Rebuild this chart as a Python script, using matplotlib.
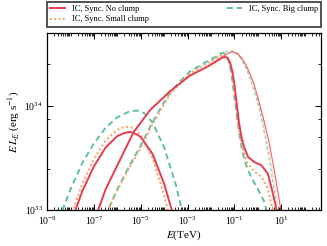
import numpy as np
import matplotlib
matplotlib.use('Agg')
import matplotlib.pyplot as plt
from matplotlib.ticker import FixedLocator, LogLocator, NullFormatter

plt.rcParams['font.family'] = 'serif'
plt.rcParams['font.serif'] = ['Liberation Serif', 'DejaVu Serif']
plt.rcParams['mathtext.fontset'] = 'stix'

# values, as log10(E/TeV) and log10(E L_E / erg s^-1)
# synchrotron bumps
sync_no_x = [-7.9, -7.5, -7.0, -6.5, -6.0, -5.7, -5.45, -5.2, -5.0, -4.5, -4.0, -3.6]
sync_no_y = [32.93, 33.18, 33.42, 33.60, 33.71, 33.74, 33.75, 33.73, 33.70, 33.54, 33.25, 32.94]
sync_small_x = [-8.0, -7.5, -7.0, -6.5, -6.0, -5.75, -5.53, -5.3, -5.0, -4.5, -4.0, -3.75]
sync_small_y = [32.93, 33.25, 33.49, 33.67, 33.77, 33.795, 33.80, 33.785, 33.72, 33.50, 33.14, 32.90]
sync_big_x = [-8.5, -8.0, -7.5, -7.0, -6.5, -6.0, -5.5, -5.17, -4.85, -4.5, -4.0, -3.5, -3.15]
sync_big_y = [32.91, 33.20, 33.45, 33.64, 33.79, 33.89, 33.945, 33.955, 33.93, 33.84, 33.60, 33.24, 32.91]

# inverse Compton (absorbed, thick)
ic_no_x = [-6.95, -6.82, -6.5, -6.0, -5.3, -4.6, -3.75, -2.9, -2.2, -1.75, -1.55, -1.4, -1.28, -1.18,
           -1.08, -1.0, -0.92, -0.8, -0.7, -0.6, -0.42, -0.15, 0.15, 0.42, 0.62, 0.78, 0.85]
ic_no_y = [32.9, 33.0, 33.2, 33.43, 33.75, 33.96, 34.14, 34.29, 34.37, 34.43, 34.46, 34.47, 34.455, 34.41,
           34.32, 34.2, 34.05, 33.83, 33.7, 33.61, 33.51, 33.46, 33.43, 33.35, 33.18, 33.02, 32.92]
ic_small_x = [-6.5, -6.4, -6.0, -5.5, -5.0, -4.6, -4.2, -3.75, -3.3, -2.9, -2.3, -1.8, -1.6, -1.47, -1.35,
              -1.23, -1.12, -1.03, -0.95, -0.83, -0.72, -0.62, -0.45, -0.15, 0.15, 0.4, 0.58, 0.7]
ic_small_y = [32.94, 33.0, 33.19, 33.4, 33.6, 33.78, 33.94, 34.11, 34.22, 34.31, 34.39, 34.45, 34.48,
              34.49, 34.475, 34.42, 34.32, 34.19, 34.04, 33.82, 33.67, 33.57, 33.45, 33.37, 33.32,
              33.22, 33.05, 32.92]
ic_big_x = [-6.5, -6.4, -6.0, -5.5, -5.0, -4.6, -4.2, -3.75, -3.3, -2.9, -2.3, -1.8, -1.6, -1.47, -1.35,
            -1.24, -1.14, -1.05, -0.95, -0.8, -0.68, -0.55, -0.3, 0.0, 0.25, 0.4, 0.5]
ic_big_y = [32.93, 33.0, 33.2, 33.42, 33.62, 33.80, 33.96, 34.13, 34.24, 34.33, 34.41, 34.47, 34.50,
            34.51, 34.49, 34.43, 34.32, 34.17, 33.99, 33.74, 33.58, 33.46, 33.32, 33.2, 33.09, 32.98, 32.9]

# inverse Compton (unabsorbed, thin)
thin_no_x = [-2.0, -1.7, -1.4, -1.1, -0.85, -0.6, -0.4, -0.18, 0.0, 0.18, 0.46, 0.67, 0.84, 0.96, 1.0]
thin_no_y = [34.40, 34.44, 34.49, 34.52, 34.50, 34.43, 34.34, 34.22, 34.08, 33.93, 33.67, 33.42,
             33.19, 33.03, 32.95]
thin_small_x = [-2.0, -1.6, -1.2, -0.95, -0.7, -0.45, -0.2, 0.05, 0.3, 0.55, 0.75, 0.9, 0.95]
thin_small_y = [34.40, 34.46, 34.51, 34.51, 34.45, 34.36, 34.21, 34.02, 33.77, 33.48, 33.2, 32.98, 32.9]
thin_big_x = [-2.0, -1.6, -1.25, -1.0, -0.75, -0.5, -0.3, -0.1, 0.1, 0.35, 0.55, 0.7, 0.82, 0.87]
thin_big_y = [34.43, 34.49, 34.53, 34.52, 34.46, 34.36, 34.24, 34.1, 33.93, 33.66, 33.4, 33.18,
              32.98, 32.9]

labels = ['IC, Sync. No clump', 'IC, Sync. Small clump', 'IC, Sync. Big clump']
colors = ['#e43d4f', '#fca868', '#5fc0a0']
styles = ['-', (0, (1, 1.2)), (0, (3, 2))]
widths = [1.4, 1.5, 1.4]

curves = [
    (sync_no_x, sync_no_y, ic_no_x, ic_no_y, thin_no_x, thin_no_y),
    (sync_small_x, sync_small_y, ic_small_x, ic_small_y, thin_small_x, thin_small_y),
    (sync_big_x, sync_big_y, ic_big_x, ic_big_y, thin_big_x, thin_big_y),
]

fig = plt.figure(figsize=(3.27, 2.46), dpi=100)
ax = fig.add_axes([0.144, 0.146, 0.838, 0.72])

for i in [2, 1, 0]:
    sx, sy, ix, iy, tx, ty = curves[i]
    ax.plot(10 ** np.array(sx), 10 ** np.array(sy), color=colors[i], ls=styles[i], lw=widths[i])
    ax.plot(10 ** np.array(ix), 10 ** np.array(iy), color=colors[i], ls=styles[i], lw=widths[i])
    ax.plot(10 ** np.array(tx), 10 ** np.array(ty), color=colors[i], ls=styles[i], lw=0.8, alpha=0.8)

handles = [plt.Line2D([], [], color=colors[i], ls=styles[i], lw=1.4, label=labels[i]) for i in range(3)]

ax.set_xscale('log')
ax.set_yscale('log')
ax.set_xlim(1e-9, 5e2)
ax.set_ylim(1e33, 5e34)

ax.xaxis.set_major_locator(FixedLocator([1e-9, 1e-7, 1e-5, 1e-3, 1e-1, 1e1]))
ax.xaxis.set_minor_locator(LogLocator(base=10, subs=np.arange(1, 10), numticks=100))
ax.xaxis.set_minor_formatter(NullFormatter())
ax.yaxis.set_major_locator(FixedLocator([1e33, 1e34]))
ax.yaxis.set_minor_locator(FixedLocator([2.5e33, 5e33, 7.5e33, 2.5e34, 5e34]))
ax.yaxis.set_minor_formatter(NullFormatter())

ax.tick_params(which='both', direction='in', top=True, right=True, labelsize=7, pad=3)
ax.tick_params(which='major', length=4, width=0.7)
ax.tick_params(which='minor', length=2, width=0.6)
for s in ax.spines.values():
    s.set_linewidth(0.9)

ax.set_xlabel('$E$(TeV)', fontsize=8, labelpad=1)
ax.set_ylabel('$E\\,L_E$ (erg s$^{-1}$)', fontsize=8, labelpad=2)

leg = ax.legend(handles=handles, ncol=2, mode='expand', loc='lower left',
                bbox_to_anchor=(0, 1.035, 1, 0.13), fontsize=6, frameon=True,
                fancybox=False, edgecolor='black', borderaxespad=0, handlelength=1.8,
                labelspacing=0.3, borderpad=0.4)
leg.get_frame().set_linewidth(1.2)

fig.savefig('out.png', dpi=100)
